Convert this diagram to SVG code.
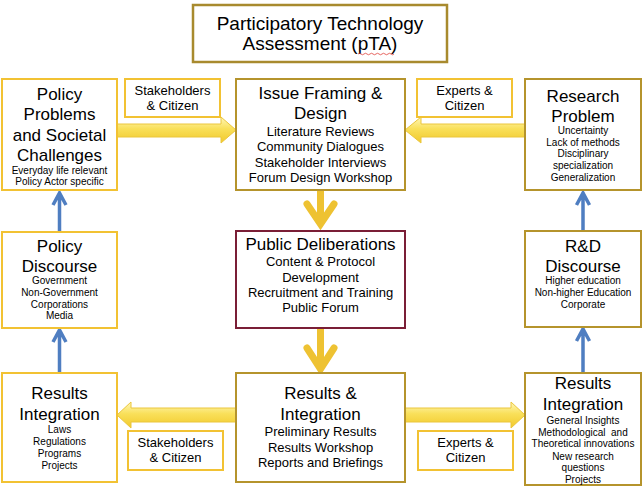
<svg xmlns="http://www.w3.org/2000/svg" width="644" height="488" viewBox="0 0 644 488">
<defs>
<linearGradient id="yg" x1="0" y1="0" x2="0" y2="1">
<stop offset="0" stop-color="#FFF7B8"/>
<stop offset="0.45" stop-color="#F9E05A"/>
<stop offset="1" stop-color="#F1C92C"/>
</linearGradient>
<style>
text{font-family:"Liberation Sans",Arial,sans-serif;fill:#000;text-anchor:middle}
.h{font-size:17px}
.t{font-size:19px}
.m{font-size:13px}
.s{font-size:10px}
.box{fill:#fff;stroke-width:2}
.yb{stroke:#F2C233}
.gb{stroke:#B5942C}
.rb{stroke:#7A1E36}
.tb{stroke:#A88A2E;stroke-width:2.5}
.ya{fill:url(#yg);stroke:#EBC63C;stroke-width:1}
.da{fill:none;stroke:#EEC232;stroke-width:7}
.ba{fill:none;stroke:#4F7EC1;stroke-width:3.5}
</style>
</defs>
<rect width="644" height="488" fill="#fff"/>

<g id="connectors">
<polygon class="ya" points="117,124 221,124 221,117 236,130 221,143 221,137 117,137"/>
<polygon class="ya" points="525,124 421,124 421,117 405,130 421,143 421,137 525,137"/>
<polygon class="ya" points="236,408 131,408 131,402 117,415 131,428 131,422 236,422"/>
<polygon class="ya" points="405,408 511,408 511,402 525,415 511,428 511,422 405,422"/>
<path class="da" d="M320.5,191 V224"/>
<path class="da" d="M307,204 L320.5,224 L334,204" stroke-linecap="round"/>
<path class="da" d="M320.5,329 V370"/>
<path class="da" d="M307,348 L320.5,369 L334,348" stroke-linecap="round"/>
<path class="ba" d="M59.5,231 V194 M53,205 L59.5,193 L66,205"/>
<path class="ba" d="M59.5,372 V331 M53,342 L59.5,330 L66,342"/>
<path class="ba" d="M583,230 V194 M576.5,205 L583,193 L589.5,205"/>
<path class="ba" d="M583,372 V330 M576.5,341 L583,329 L589.5,341"/>
</g>

<g id="title">
<rect class="box tb" x="193" y="5" width="254" height="57"/>
<text class="t" x="320" y="30">Participatory Technology</text>
<text class="t" x="320" y="50">Assessment (pTA)</text>
<path d="M358,54 q1.5,-1.5 3,0 t3,0 t3,0 t3,0 t3,0 t3,0 t3,0 t3,0 t3,0 t3,0 t3,0 t3,0" fill="none" stroke="#E0403A" stroke-width="0.8"/>
</g>

<g id="policy-problems">
<rect class="box yb" x="2" y="79" width="115" height="111"/>
<text class="h" x="59.5" y="100">Policy</text>
<text class="h" x="59.5" y="120">Problems</text>
<text class="h" x="59.5" y="141">and Societal</text>
<text class="h" x="59.5" y="161">Challenges</text>
<text class="s" x="59.5" y="174">Everyday life relevant</text>
<text class="s" x="59.5" y="185">Policy Actor specific</text>
</g>

<g id="stakeholders-top">
<rect class="box yb" x="125" y="79" width="95" height="38"/>
<text class="m" x="172.5" y="95">Stakeholders</text>
<text class="m" x="172.5" y="110">&amp; Citizen</text>
</g>

<g id="issue-framing">
<rect class="box gb" x="236" y="79" width="169" height="111"/>
<text class="h" x="320.5" y="99">Issue Framing &amp;</text>
<text class="h" x="320.5" y="119">Design</text>
<text class="m" x="320.5" y="136">Literature Reviews</text>
<text class="m" x="320.5" y="151">Community Dialogues</text>
<text class="m" x="320.5" y="167">Stakeholder Interviews</text>
<text class="m" x="320.5" y="182">Forum Design Workshop</text>
</g>

<g id="experts-top">
<rect class="box yb" x="417" y="79" width="95" height="38"/>
<text class="m" x="464.5" y="95">Experts &amp;</text>
<text class="m" x="464.5" y="110">Citizen</text>
</g>

<g id="research-problem">
<rect class="box gb" x="525" y="79" width="116" height="111"/>
<text class="h" x="583" y="102">Research</text>
<text class="h" x="583" y="122">Problem</text>
<text class="s" x="583" y="134">Uncertainty</text>
<text class="s" x="583" y="146">Lack of methods</text>
<text class="s" x="583" y="157">Disciplinary</text>
<text class="s" x="583" y="169">specialization</text>
<text class="s" x="583" y="181">Generalization</text>
</g>

<g id="policy-discourse">
<rect class="box yb" x="2" y="232" width="115" height="96"/>
<text class="h" x="59.5" y="252">Policy</text>
<text class="h" x="59.5" y="272">Discourse</text>
<text class="s" x="59.5" y="284">Government</text>
<text class="s" x="59.5" y="296">Non-Government</text>
<text class="s" x="59.5" y="308">Corporations</text>
<text class="s" x="59.5" y="319">Media</text>
</g>

<g id="public-deliberations">
<rect class="box rb" x="236" y="231" width="169" height="97"/>
<text class="h" x="320.5" y="250">Public Deliberations</text>
<text class="m" x="320.5" y="266">Content &amp; Protocol</text>
<text class="m" x="320.5" y="282">Development</text>
<text class="m" x="320.5" y="297">Recruitment and Training</text>
<text class="m" x="320.5" y="312">Public Forum</text>
</g>

<g id="rd-discourse">
<rect class="box gb" x="525" y="231" width="116" height="96"/>
<text class="h" x="583" y="252">R&amp;D</text>
<text class="h" x="583" y="272">Discourse</text>
<text class="s" x="583" y="284">Higher education</text>
<text class="s" x="583" y="296">Non-higher Education</text>
<text class="s" x="583" y="308">Corporate</text>
</g>

<g id="results-integration-left">
<rect class="box yb" x="2" y="373" width="115" height="109"/>
<text class="h" x="59.5" y="399">Results</text>
<text class="h" x="59.5" y="420">Integration</text>
<text class="s" x="59.5" y="433">Laws</text>
<text class="s" x="59.5" y="445">Regulations</text>
<text class="s" x="59.5" y="457">Programs</text>
<text class="s" x="59.5" y="469">Projects</text>
</g>

<g id="stakeholders-bottom">
<rect class="box yb" x="128" y="431" width="95" height="39"/>
<text class="m" x="175.5" y="447">Stakeholders</text>
<text class="m" x="175.5" y="462">&amp; Citizen</text>
</g>

<g id="results-integration-center">
<rect class="box gb" x="236" y="373" width="169" height="109"/>
<text class="h" x="320.5" y="399">Results &amp;</text>
<text class="h" x="320.5" y="420">Integration</text>
<text class="m" x="320.5" y="436">Preliminary Results</text>
<text class="m" x="320.5" y="452">Results Workshop</text>
<text class="m" x="320.5" y="467">Reports and Briefings</text>
</g>

<g id="experts-bottom">
<rect class="box yb" x="418" y="431" width="95" height="39"/>
<text class="m" x="465.5" y="447">Experts &amp;</text>
<text class="m" x="465.5" y="462">Citizen</text>
</g>

<g id="results-integration-right">
<rect class="box gb" x="525" y="373" width="116" height="112"/>
<text class="h" x="583" y="389">Results</text>
<text class="h" x="583" y="410">Integration</text>
<text class="s" x="583" y="424">General Insights</text>
<text class="s" x="583" y="436">Methodological&#160; and</text>
<text class="s" x="583" y="447">Theoretical innovations</text>
<text class="s" x="583" y="460">New research</text>
<text class="s" x="583" y="471">questions</text>
<text class="s" x="583" y="483">Projects</text>
</g>
</svg>
